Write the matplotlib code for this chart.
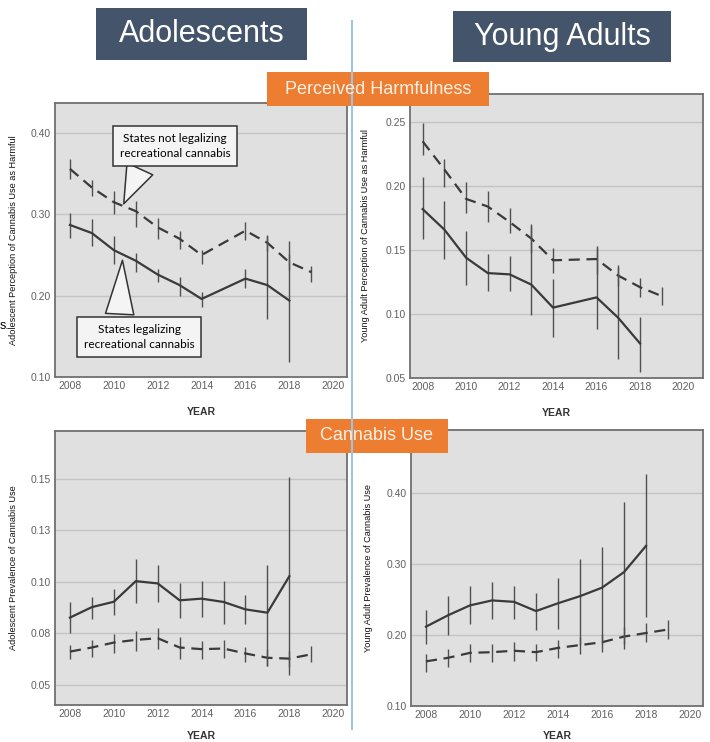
import matplotlib.pyplot as plt
from matplotlib.patches import Rectangle

plt.rcParams['font.family'] = ['Liberation Sans', 'DejaVu Sans']

# ====== DATA ======
years_a = [2008, 2009, 2010, 2011, 2012, 2013, 2014, 2016, 2017, 2018, 2019]
years_b = [2008, 2009, 2010, 2011, 2012, 2013, 2014, 2016, 2017, 2018]
years_c = [2008, 2009, 2010, 2011, 2012, 2013, 2014, 2015, 2016, 2017, 2018, 2019]
years_d = [2008, 2009, 2010, 2011, 2012, 2013, 2014, 2015, 2016, 2017, 2018]

# Adolescent perception of harm
adol_harm_not = [0.356, 0.333, 0.315, 0.304, 0.284, 0.270, 0.250, 0.280, 0.265, 0.241, 0.229]
adol_harm_not_lo = [0.344, 0.322, 0.300, 0.285, 0.270, 0.257, 0.239, 0.269, 0.255, 0.231, 0.217]
adol_harm_not_hi = [0.368, 0.342, 0.329, 0.316, 0.296, 0.279, 0.256, 0.291, 0.275, 0.251, 0.237]
adol_harm_leg = [0.287, 0.277, 0.256, 0.243, 0.226, 0.213, 0.196, 0.221, 0.213, 0.194]
adol_harm_leg_lo = [0.271, 0.261, 0.239, 0.229, 0.217, 0.200, 0.186, 0.209, 0.171, 0.119]
adol_harm_leg_hi = [0.302, 0.294, 0.273, 0.253, 0.233, 0.223, 0.204, 0.233, 0.273, 0.267]

# Young adult perception of harm
ya_harm_not = [0.235, 0.213, 0.190, 0.184, 0.172, 0.159, 0.142, 0.143, 0.130, 0.121, 0.114]
ya_harm_not_lo = [0.224, 0.199, 0.179, 0.172, 0.163, 0.148, 0.132, 0.131, 0.122, 0.113, 0.107]
ya_harm_not_hi = [0.249, 0.221, 0.203, 0.196, 0.183, 0.170, 0.152, 0.152, 0.138, 0.128, 0.121]
ya_harm_leg = [0.182, 0.166, 0.144, 0.132, 0.131, 0.123, 0.105, 0.113, 0.097, 0.077]
ya_harm_leg_lo = [0.159, 0.143, 0.123, 0.118, 0.118, 0.099, 0.082, 0.088, 0.065, 0.055]
ya_harm_leg_hi = [0.207, 0.188, 0.165, 0.147, 0.145, 0.169, 0.127, 0.153, 0.137, 0.098]

# Adolescent prevalence of use
adol_use_not = [0.0661, 0.0681, 0.0705, 0.0718, 0.0726, 0.0681, 0.0673, 0.0676, 0.0652, 0.0631, 0.0627, 0.0648]
adol_use_not_lo = [0.0624, 0.0637, 0.0656, 0.0665, 0.0676, 0.0627, 0.0627, 0.0632, 0.0613, 0.0592, 0.0584, 0.0613]
adol_use_not_hi = [0.0694, 0.0718, 0.0748, 0.0761, 0.0777, 0.0734, 0.0713, 0.0718, 0.0684, 0.0673, 0.0665, 0.0689]
adol_use_leg = [0.0826, 0.0877, 0.0903, 0.1003, 0.0992, 0.0910, 0.0918, 0.0902, 0.0866, 0.0850, 0.1027]
adol_use_leg_lo = [0.0750, 0.0821, 0.0839, 0.0895, 0.0903, 0.0823, 0.0831, 0.0794, 0.0794, 0.0592, 0.0547]
adol_use_leg_hi = [0.0902, 0.0927, 0.0966, 0.1110, 0.1080, 0.0992, 0.1003, 0.1003, 0.0935, 0.1080, 0.1508]

# Young adult prevalence of use
ya_use_not = [0.163, 0.168, 0.175, 0.176, 0.178, 0.176, 0.182, 0.186, 0.190, 0.198, 0.203, 0.208]
ya_use_not_lo = [0.148, 0.155, 0.162, 0.162, 0.164, 0.164, 0.168, 0.174, 0.176, 0.187, 0.190, 0.194]
ya_use_not_hi = [0.174, 0.180, 0.187, 0.188, 0.190, 0.188, 0.193, 0.198, 0.202, 0.211, 0.217, 0.222]
ya_use_leg = [0.212, 0.228, 0.242, 0.249, 0.247, 0.234, 0.245, 0.255, 0.267, 0.289, 0.326]
ya_use_leg_lo = [0.188, 0.200, 0.216, 0.223, 0.223, 0.207, 0.209, 0.186, 0.188, 0.180, 0.225]
ya_use_leg_hi = [0.235, 0.255, 0.270, 0.275, 0.270, 0.260, 0.281, 0.307, 0.325, 0.388, 0.428]

xticks = [2008, 2010, 2012, 2014, 2016, 2018, 2020]
adol_use_ticks = [0.05, 0.075, 0.10, 0.125, 0.15]
adol_use_ticklabels = ['0.05', '0.08', '0.10', '0.13', '0.15']

LINE = '#3a3a3a'
BAR = '#505050'
GRAY_BG = '#e0e0e0'
W, H = 710, 742


def panel(rect, xlim, ylim, yticks, ylabel, ylab_x, xlab_y, series, yticklabels=None):
    ax = fig.add_axes(rect)
    ax.set_facecolor(GRAY_BG)
    for s in ax.spines.values():
        s.set_color('#707070')
        s.set_linewidth(1.3)
    ax.set_xlim(*xlim)
    ax.set_ylim(*ylim)
    ax.set_xticks(xticks)
    ax.set_yticks(yticks)
    if yticklabels is not None:
        ax.set_yticklabels(yticklabels)
    else:
        ax.set_yticklabels(['%.2f' % v for v in yticks])
    ax.tick_params(length=0, labelsize=7.5, labelcolor='#606060', pad=3)
    ax.grid(axis='y', color='#c4c4c4', linewidth=1)
    ax.set_axisbelow(True)
    ax.set_ylabel(ylabel, fontsize=6.6, color='#111111')
    ax.yaxis.set_label_coords(ylab_x, 0.5)
    ax.set_xlabel('YEAR', fontsize=7.5, fontweight='bold', color='#333333')
    ax.xaxis.set_label_coords(0.5, xlab_y)
    for yrs, val, lo, hi, ls in series:
        ax.vlines(yrs, lo, hi, color=BAR, linewidth=1.0)
        ax.plot(yrs, val, color=LINE, linewidth=1.6, linestyle=ls,
                dashes=(5, 3) if ls == '--' else (None, None))
    return ax


def header(x0, y0, x1, y1, text, size, fc, tc):
    fig.add_artist(Rectangle((x0 / W, 1 - y1 / H), (x1 - x0) / W, (y1 - y0) / H,
                             transform=fig.transFigure, fc=fc, ec='none'))
    fig.text((x0 + x1) / 2 / W, 1 - (y0 + y1) / 2 / H, text, ha='center', va='center',
             fontsize=size, color=tc)


fig = plt.figure(figsize=(7.1, 7.42), dpi=100)

ax1 = panel([0.0775, 0.4919, 0.411, 0.3693], (2007.32, 2020.62), (0.10, 0.437),
            [0.10, 0.20, 0.30, 0.40], 'Adolescent Perception of Cannabis Use as Harmful', -0.127, -0.11,
            [(years_a, adol_harm_not, adol_harm_not_lo, adol_harm_not_hi, '--'),
             (years_b, adol_harm_leg, adol_harm_leg_lo, adol_harm_leg_hi, '-')])

ax2 = panel([0.5775, 0.4906, 0.4127, 0.3827], (2007.42, 2020.9), (0.05, 0.272),
            [0.05, 0.10, 0.15, 0.20, 0.25], 'Young Adult Perception of Cannabis Use as Harmful', -0.137, -0.106,
            [(years_a, ya_harm_not, ya_harm_not_lo, ya_harm_not_hi, '--'),
             (years_b, ya_harm_leg, ya_harm_leg_lo, ya_harm_leg_hi, '-')])

ax3 = panel([0.0775, 0.0499, 0.411, 0.3693], (2007.32, 2020.62), (0.0402, 0.1732),
            adol_use_ticks, 'Adolescent Prevalence of Cannabis Use', -0.127, -0.095,
            [(years_c, adol_use_not, adol_use_not_lo, adol_use_not_hi, '--'),
             (years_d, adol_use_leg, adol_use_leg_lo, adol_use_leg_hi, '-')],
            yticklabels=adol_use_ticklabels)

ax4 = panel([0.5789, 0.0485, 0.4113, 0.372], (2007.32, 2020.59), (0.10, 0.4895),
            [0.10, 0.20, 0.30, 0.40], 'Young Adult Prevalence of Cannabis Use', -0.13, -0.09,
            [(years_c, ya_use_not, ya_use_not_lo, ya_use_not_hi, '--'),
             (years_d, ya_use_leg, ya_use_leg_lo, ya_use_leg_hi, '-')])

# callouts
box = dict(boxstyle='square,pad=0.55', fc='#f4f4f4', ec='#333333', lw=1.1)
wedge = dict(arrowstyle='wedge,tail_width=2.4,shrink_factor=0.5', fc='#f4f4f4',
             ec='#333333', lw=1.1)
ax1.annotate('States not legalizing\nrecreational cannabis', xy=(2010.4, 0.310),
             xytext=(2012.8, 0.384), ha='center', va='center', fontsize=8.5,
             family='Lato', linespacing=1.5, bbox=box,
             arrowprops=dict(wedge, relpos=(0.22, 0.0)))
ax1.annotate('States legalizing\nrecreational cannabis', xy=(2010.4, 0.247),
             xytext=(2011.15, 0.149), ha='center', va='center', fontsize=8.5,
             family='Lato', linespacing=1.5, bbox=box,
             arrowprops=dict(wedge, relpos=(0.32, 1.0)))

# divider line
fig.add_artist(plt.Line2D([352 / W, 352 / W], [1 - 21 / H, 1 - 729 / H],
                          color='#9dc3e6', linewidth=1.5))

# header boxes
header(96, 8, 307, 60, 'Adolescents', 22, '#44546a', 'white')
header(453, 11, 671, 62, 'Young Adults', 22, '#44546a', 'white')
header(267, 72, 489, 106, 'Perceived Harmfulness', 13, '#ed7d31', '#fdf0e6')
header(306, 419, 448, 453, 'Cannabis Use', 13, '#ed7d31', '#fdf0e6')

# stray fragment from the slide
fig.text(0, 1 - 326 / H, 's.', ha='left', va='center', fontsize=9, color='black')

plt.savefig('out.png', dpi=100)
